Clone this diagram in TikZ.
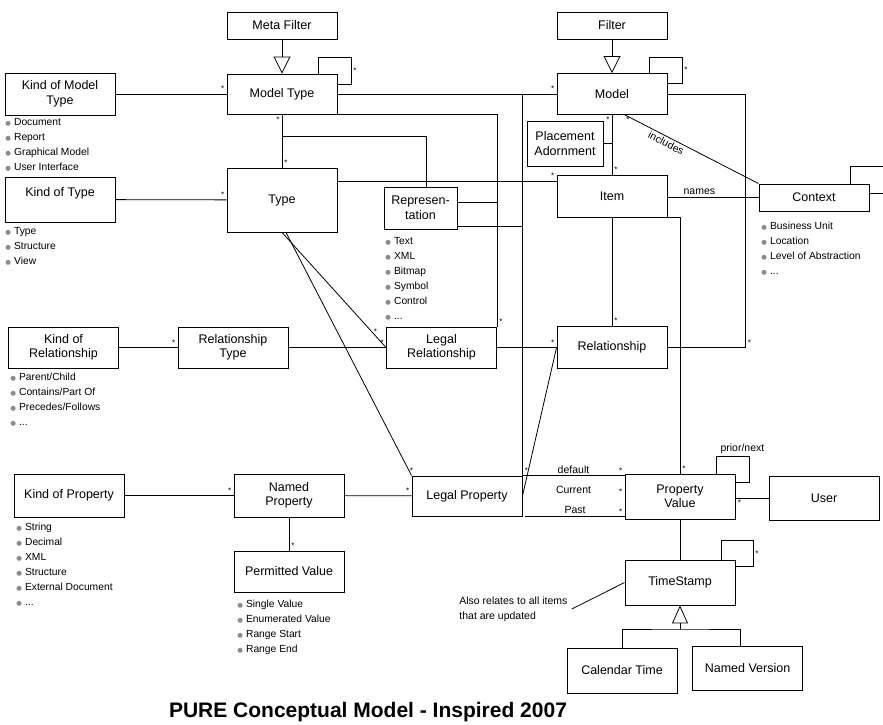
\documentclass[tikz,border=0pt]{standalone}
\usepackage{fontspec}
\setmainfont{Liberation Sans}
\newfontfamily\symfont{DejaVu Sans}
\usetikzlibrary{arrows.meta}

\definecolor{bulletgray}{RGB}{140,140,140}
\newcommand{\blt}{\strut{\color{bulletgray}\symfont\fontsize{6.5}{6.5}\selectfont ●}\hspace{3pt}}

\tikzset{
  cls/.style={draw, line width=0.9pt, minimum width=110pt, minimum height=41pt,
    align=center, inner sep=2pt, font=\fontsize{12.5}{14.5}\selectfont},
  mult/.style={font=\fontsize{8}{8}\selectfont, inner sep=2pt},
  lbl/.style={font=\fontsize{10.5}{15}\selectfont, inner sep=2pt},
  blist/.style={anchor=north west, align=left, inner sep=0pt,
    font=\fontsize{10.3}{15}\selectfont},
  genarrow/.style={-{Triangle[open, length=17pt, width=17pt]}},
}

\begin{document}
\begin{tikzpicture}[x=1pt, y=-1pt, line width=0.8pt]
  \useasboundingbox (0,0) rectangle (883,725);
  \fill[white] (0,0) rectangle (883,725);

  % Nodes
  \node[cls, minimum height=27pt] (metafilter) at (282,25.5) {Meta Filter};
  \node[cls, minimum height=27pt] (filter) at (612,25.5) {Filter};
  \node[cls, minimum height=40pt] (mtype) at (282,94) {Model Type};
  \node[cls] (model) at (612,94) {Model};
  \node[cls, minimum height=42pt] (kmtype) at (60,94) {Kind of Model\\Type};
  \node[cls, minimum height=64pt] (type) at (282,200) {Type};
  \node[cls, minimum height=45pt] (ktype) at (60,199.5) {Kind of Type\\\mbox{}};
  \node[cls, minimum width=73pt, minimum height=42pt] (repr) at (420.5,208) {Represen-\\tation};
  \node[cls, minimum width=76pt, minimum height=45pt] (pladorn) at (565,143.5) {Placement\\Adornment};
  \node[cls, minimum height=42pt] (item) at (612,196) {Item};
  \node[cls, minimum height=27pt] (context) at (814,197.5) {Context};
  \node[cls] (krel) at (63.5,347.5) {Kind of\\Relationship};
  \node[cls] (reltype) at (233,347.5) {Relationship\\Type};
  \node[cls] (legrel) at (441.5,347.5) {Legal\\Relationship};
  \node[cls, minimum height=42pt] (rel) at (612,347.5) {Relationship};
  \node[cls, minimum height=43pt] (kprop) at (69,495.5) {Kind of Property};
  \node[cls, minimum height=43pt] (nprop) at (289,495.5) {Named\\Property};
  \node[cls, minimum height=40pt] (legprop) at (467,496) {Legal Property};
  \node[cls, minimum height=45pt] (pval) at (680,496.5) {Property\\Value};
  \node[cls, minimum height=44pt] (user) at (824,498) {User};
  \node[cls] (permval) at (289,571.5) {Permitted Value};
  \node[cls, minimum height=45pt] (tstamp) at (680,582.5) {TimeStamp};
  \node[cls, minimum height=45pt] (caltime) at (622,670.5) {Calendar Time};
  \node[cls, minimum height=44pt] (namedver) at (747.5,668) {Named Version};

  % Value lists
  \node[blist] (kmlist) at (5,115) {\blt Document\\\blt Report\\\blt Graphical Model\\\blt User Interface};
  \node[blist] (ktlist) at (5,224) {\blt Type\\\blt Structure\\\blt View};
  \node[blist] (replist) at (385,234) {\blt Text\\\blt XML\\\blt Bitmap\\\blt Symbol\\\blt Control\\\blt ...};
  \node[blist] (krlist) at (10,370) {\blt Parent/Child\\\blt Contains/Part Of\\\blt Precedes/Follows\\\blt ...};
  \node[blist] (ctxlist) at (761,219) {\blt Business Unit\\\blt Location\\\blt Level of Abstraction\\\blt ...};
  \node[blist] (kplist) at (16,520) {\blt String\\\blt Decimal\\\blt XML\\\blt Structure\\\blt External Document\\\blt ...};
  \node[blist] (pvlist) at (237,597) {\blt Single Value\\\blt Enumerated Value\\\blt Range Start\\\blt Range End};

  \node[lbl, align=left, anchor=west, inner sep=0pt] (note) at (459,609) {Also relates to all items\\that are updated};
  \node[font=\bfseries\fontsize{21}{21}\selectfont] (title) at (368,712) {PURE Conceptual Model - Inspired 2007};

  % Generalisations
  \draw[genarrow] (metafilter) -- (mtype);
  \draw[genarrow] (filter) -- (model);
  \draw[-{Triangle[open, length=18pt, width=16pt]}] (tstamp.south |- 0,629) -- (tstamp.south);
  \draw (caltime.north) |- (tstamp.south |- 0,629) -| ([xshift=-7pt]namedver.north);

  % Associations
  \draw (kmtype) -- node[mult, at end, above left] {*} (mtype);
  \draw (ktype) -- node[mult, at end, above left] {*} (type);
  \draw (mtype) -- node[mult, at start, below left] {*} node[mult, at end, above right] {*} (type);
  \draw (mtype.south |- 0,136) -| ([xshift=6pt]repr.north);
  \draw (type.east |- 0,181) -- node[mult, at end, above left] {*} (item.west |- 0,181);
  \draw (mtype) -- node[mult, at end, above left] {*} (model);
  \draw (legprop.north east) -- node[mult, at start, above right] {*} (legprop.north east |- mtype.east);
  \draw (mtype.south east) -| node[mult, at end, above right] {*} (legrel.north east);
  \draw (repr.east |- 0,202) -- (legrel.north east |- 0,202);
  \draw (repr.east |- 0,226) -- (legprop.north east |- 0,226);
  \draw (model) -- node[mult, at start, below left] {*} node[mult, at end, above right] {*} (item);
  \draw (pladorn.east) -- (pladorn.east -| model.south);
  \draw ([xshift=13pt]model.south) -- node[lbl, sloped, below, pos=0.33] {includes}
    node[mult, at start, below, xshift=3pt] {*} (context.north west);
  \draw (item.east |- context.west) -- node[lbl, above, pos=0.35] {names} (context.west);
  \draw (model.east) -| ([xshift=78pt]rel.east) node[mult, above right] {*} -- (rel.east);
  \draw (item) -- node[mult, at end, above right] {*} (rel);
  \draw (legrel) -- node[mult, at end, above left] {*} (rel);
  \draw (item.south east) -| node[mult, at end, above right] {*} (pval.north);
  \draw (rel.west) -- (legprop.east);
  \draw (krel) -- node[mult, at end, above left] {*} (reltype);
  \draw (reltype) -- node[mult, at end, above left] {*} (legrel);
  \draw (type.south) -- node[mult, pos=0.86, right] {*} (legrel.west);
  \draw ([xshift=4pt]type.south) -- node[mult, at end, above] {*} (legprop.north west);
  \draw (kprop) -- node[mult, at end, above left] {*} (nprop);
  \draw (nprop) -- node[mult, at end, above left] {*} (legprop);
  \draw (nprop) -- node[mult, at end, above right] {*} (permval);
  \draw (legprop.north east) -- node[lbl, above] {default}
    node[mult, at end, above left] {*} (pval.west |- legprop.north east);
  \path (legprop.east) -- node[lbl, above] {Current} node[mult, at end, above left] {*} (pval.west);
  \draw ([xshift=3pt]legprop.south east) -- node[lbl, above] {Past}
    node[mult, at end, above left] {*} (pval.west |- legprop.south east);
  \draw (pval.east |- user.west) -- node[mult, at start, below right] {*} (user.west);
  \draw (pval) -- (tstamp);
  \draw ([xshift=4pt]note.east) -- (tstamp.west);

  % Self-loops
  \draw ([xshift=36pt]mtype.north) |- ++(33,-16) |- node[mult, pos=0.25, right] {*} ([yshift=10pt]mtype.east);
  \draw ([xshift=37pt]model.north) |- ++(33,-16) |- node[mult, pos=0.25, right] {*} ([yshift=11pt]model.east);
  \draw ([xshift=36pt]context.north) |- ++(33,-17) |- ([yshift=4.5pt]context.east);
  \draw ([xshift=36pt]pval.north) |- node[lbl, pos=0.9, above] {prior/next} ++(33,-17) |- ([yshift=14.5pt]pval.east);
  \draw ([xshift=41pt]tstamp.north) |- ++(32,-19) |- node[mult, pos=0.25, right] {*} ([yshift=16.5pt]tstamp.east);
\end{tikzpicture}
\end{document}
